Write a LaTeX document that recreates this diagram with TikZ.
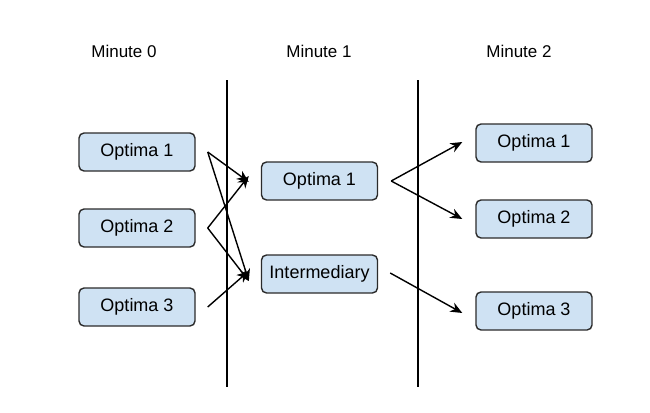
\documentclass[tikz,border=0pt]{standalone}
\usepackage{fontspec}
\setmainfont{Liberation Sans}
\usetikzlibrary{arrows.meta,calc}
\definecolor{boxfill}{HTML}{CFE2F3}
\definecolor{boxline}{HTML}{2B2B2B}
\tikzset{
  optbox/.style={draw=boxline, line width=1.4pt, fill=boxfill, rounded corners=5pt,
    minimum width=116pt, minimum height=38pt, inner sep=0pt, font=\fontsize{18}{21}\selectfont},
  header/.style={font=\fontsize{17}{20}\selectfont, inner sep=0pt},
  divider/.style={line width=1.5pt, black},
  conn/.style={line width=1.4pt, black, -{Stealth[length=12pt,width=10pt]}}
}
\begin{document}
\begin{tikzpicture}[x=1pt,y=-1pt]
\useasboundingbox (0,0) rectangle (650,412);
% headers
\node[header] (h0) at (124,51) {Minute 0};
\node[header] (h1) at (319,51) {Minute 1};
\node[header] (h2) at (519,51) {Minute 2};
% dividers
\coordinate (d1t) at (227,80); \coordinate (d1b) at (227,387);
\coordinate (d2t) at (418,80); \coordinate (d2b) at (418,387);
\draw[divider] (d1t) -- (d1b);
\draw[divider] (d2t) -- (d2b);
% boxes
\node[optbox] (l1) at (137,152) {Optima 1};
\node[optbox] (l2) at (137,228) {Optima 2};
\node[optbox] (l3) at (137,307) {Optima 3};
\node[optbox] (m1) at (319.5,181) {Optima 1};
\node[optbox] (m2) at (319.5,274) {Intermediary};
\node[optbox] (r1) at (534,143) {Optima 1};
\node[optbox] (r2) at (534,219) {Optima 2};
\node[optbox] (r3) at (534,311) {Optima 3};
% connectors minute 0 -> minute 1
\draw[conn] ([xshift=12pt]l1.east) -- ([xshift=-12pt,yshift=-1pt]m1.west);
\draw[conn] ([xshift=12pt]l1.east) -- ([xshift=-12pt,yshift=-7pt]m2.west);
\draw[conn] ([xshift=12pt]l2.east) -- ([xshift=-12pt,yshift=5pt]m1.west);
\draw[conn] ([xshift=12pt]l2.east) -- ([xshift=-12pt,yshift=-7pt]m2.west);
\draw[conn] ([xshift=12pt]l3.east) -- ([xshift=-12pt,yshift=3pt]m2.west);
% connectors minute 1 -> minute 2
\draw[conn] ([xshift=13pt]m1.east) -- ([xshift=-13pt,yshift=1pt]r1.west);
\draw[conn] ([xshift=13pt]m1.east) -- ([xshift=-13pt]r2.west);
\draw[conn] ([xshift=12pt,yshift=1pt]m2.east) -- ([xshift=-13pt,yshift=-2pt]r3.west);
\end{tikzpicture}
\end{document}
